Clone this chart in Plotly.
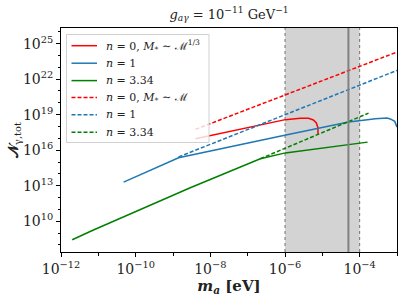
import plotly.graph_objects as go

# ---- data ----
red_solid_m = [4.0e-9, 1.02e-6, 2.57e-6, 4.27e-6, 5.75e-6, 6.92e-6, 7.59e-6, 7.67e-6]
red_solid_N = [9.3e16, 3.8e18, 5.0e18, 4.9e18, 3.6e18, 2.0e18, 8.3e17, 2.0e17]

blue_solid_m = [4.75e-11, 1.41e-9, 9.8e-7, 5.06e-5, 1.42e-4, 2.62e-4, 5.4e-4, 6.6e-4, 8.7e-4, 1.0e-3]
blue_solid_N = [2.0e13, 2.3e15, 1.84e17, 2.36e18, 3.6e18, 4.57e18, 5.14e18, 4.37e18, 2.7e18, 8.9e17]

green_solid_m = [2.0e-12, 6.9e-12, 2.9e-9, 2.18e-7, 1.02e-6, 1.64e-5, 1.63e-4]
green_solid_N = [2.7e8, 1.65e9, 6.7e12, 1.9e15, 5.9e15, 1.96e16, 4.8e16]

red_dashed_m = [4.0e-9, 1.0e-3]
red_dashed_N = [5.75e17, 1.95e24]

blue_dashed_m = [1.41e-9, 1.0e-3]
blue_dashed_N = [2.7e15, 5.5e22]

green_dashed_m = [2.18e-7, 1.73e-4]
green_dashed_N = [1.9e15, 1.35e19]

band_m = [1e-6, 1e-4]
marker_m = 5.0e-5

legend_labels = [
    "<i>n</i> = 0, <i>M</i><sub>*</sub> ∼ ℳ<sup>1/3</sup>",
    "<i>n</i> = 1",
    "<i>n</i> = 3.34",
    "<i>n</i> = 0, <i>M</i><sub>*</sub> ∼ ℳ",
    "<i>n</i> = 1",
    "<i>n</i> = 3.34",
]

x_major = [1e-12, 1e-10, 1e-8, 1e-6, 1e-4]
x_major_text = ["10<sup>−12</sup>", "10<sup>−10</sup>", "10<sup>−8</sup>", "10<sup>−6</sup>", "10<sup>−4</sup>"]
x_minor = [1e-11, 1e-9, 1e-7, 1e-5, 1e-3]
y_major = [1e10, 1e13, 1e16, 1e19, 1e22, 1e25]
y_major_text = ["10<sup>10</sup>", "10<sup>13</sup>", "10<sup>16</sup>", "10<sup>19</sup>", "10<sup>22</sup>", "10<sup>25</sup>"]
y_minor = [10.0 ** k for k in range(8, 27)]

RED = "#ff0000"
BLUE = "#1f77b4"
GREEN = "#008000"
FONT = "DejaVu Serif"
DASH = "4px,2px"

W, H = 407, 305
ML, MR, MT, MB = 61, 10, 28, 53
PW, PH = W - ML - MR, H - MT - MB


def px_x(p):
    return (p - ML) / PW


def px_y(p):
    return 1 - (p - MT) / PH


fig = go.Figure()

series = [
    (red_solid_m, red_solid_N, RED, "solid"),
    (blue_solid_m, blue_solid_N, BLUE, "solid"),
    (green_solid_m, green_solid_N, GREEN, "solid"),
    (red_dashed_m, red_dashed_N, RED, DASH),
    (blue_dashed_m, blue_dashed_N, BLUE, DASH),
    (green_dashed_m, green_dashed_N, GREEN, DASH),
]
for (m, N, c, d), name in zip(series, legend_labels):
    fig.add_trace(go.Scatter(x=m, y=N, mode="lines", name=name, showlegend=False,
                             line=dict(color=c, width=1.5, dash=d)))

# shaded band and vertical lines
fig.add_shape(type="rect", xref="x", yref="paper", x0=band_m[0], x1=band_m[1], y0=0, y1=1,
              fillcolor="#d3d3d3", line=dict(width=0), layer="below")
for xv in band_m:
    fig.add_shape(type="line", xref="x", yref="paper", x0=xv, x1=xv, y0=0, y1=1,
                  line=dict(color="#555555", width=0.8, dash="dot"), layer="below")
fig.add_shape(type="line", xref="x", yref="paper", x0=marker_m, x1=marker_m, y0=0, y1=1,
              line=dict(color="#808080", width=2), layer="above")

# legend box (matplotlib-style, semi-transparent)
bx0, by0, bx1, by1 = 66.5, 34.5, 209, 142.5
fig.add_shape(type="rect", xref="paper", yref="paper",
              x0=px_x(bx0), x1=px_x(bx1), y0=px_y(by1), y1=px_y(by0),
              fillcolor="rgba(255,255,255,0.8)", line=dict(color="#d0d0d0", width=1), layer="above")
row_y = [45.7, 63.2, 80.6, 97.5, 114.8, 132.2]
for (m, N, c, d), lab, ry in zip(series, legend_labels, row_y):
    fig.add_shape(type="line", xref="paper", yref="paper",
                  x0=px_x(71.5), x1=px_x(97), y0=px_y(ry), y1=px_y(ry),
                  line=dict(color=c, width=1.5, dash=d), layer="above")
    fig.add_annotation(xref="paper", yref="paper", x=px_x(104), y=px_y(ry),
                       xanchor="left", yanchor="middle", showarrow=False,
                       text=lab, font=dict(size=11, family=FONT, color="#222222"))

fig.update_layout(
    width=W, height=H,
    margin=dict(l=ML, r=MR, t=MT, b=MB),
    paper_bgcolor="white", plot_bgcolor="white",
    font=dict(family=FONT, color="#222222"),
    title=dict(text="<i>g</i><sub><i>aγ</i></sub> = 10<sup>−11</sup> GeV<sup>−1</sup>",
               x=(ML + W - MR) / 2 / W, xanchor="center", y=1 - 14 / H, yanchor="middle",
               font=dict(size=13, family=FONT)),
    showlegend=False,
)
fig.update_xaxes(type="log", range=[-12, -3], tickmode="array", tickvals=x_major, ticktext=x_major_text,
                 ticks="outside", ticklen=4, tickcolor="black", showgrid=False, zeroline=False,
                 showline=True, linecolor="black", linewidth=1, mirror=True, automargin=False,
                 tickfont=dict(size=14, family=FONT),
                 minor=dict(tickmode="array", tickvals=x_minor, ticks="outside", ticklen=2.5, tickcolor="black", showgrid=False),
                 title=dict(text="<b><i>m</i><sub><i>a</i></sub> [eV]</b>", font=dict(size=15, family=FONT), standoff=2))
fig.update_yaxes(type="log", range=[7.4, 26.32], tickmode="array", tickvals=y_major, ticktext=y_major_text,
                 ticks="outside", ticklen=4, tickcolor="black", showgrid=False, zeroline=False,
                 showline=True, linecolor="black", linewidth=1, mirror=True, automargin=False,
                 tickfont=dict(size=14, family=FONT),
                 minor=dict(tickmode="array", tickvals=y_minor, ticks="outside", ticklen=2.5, tickcolor="black", showgrid=False),
                 title=dict(text="<b>𝒩</b><sub>γ,tot</sub>", font=dict(size=14, family=FONT), standoff=0))

fig.write_html("out.html", config={"displayModeBar": False},
               post_script="document.body.style.margin='0px';")
